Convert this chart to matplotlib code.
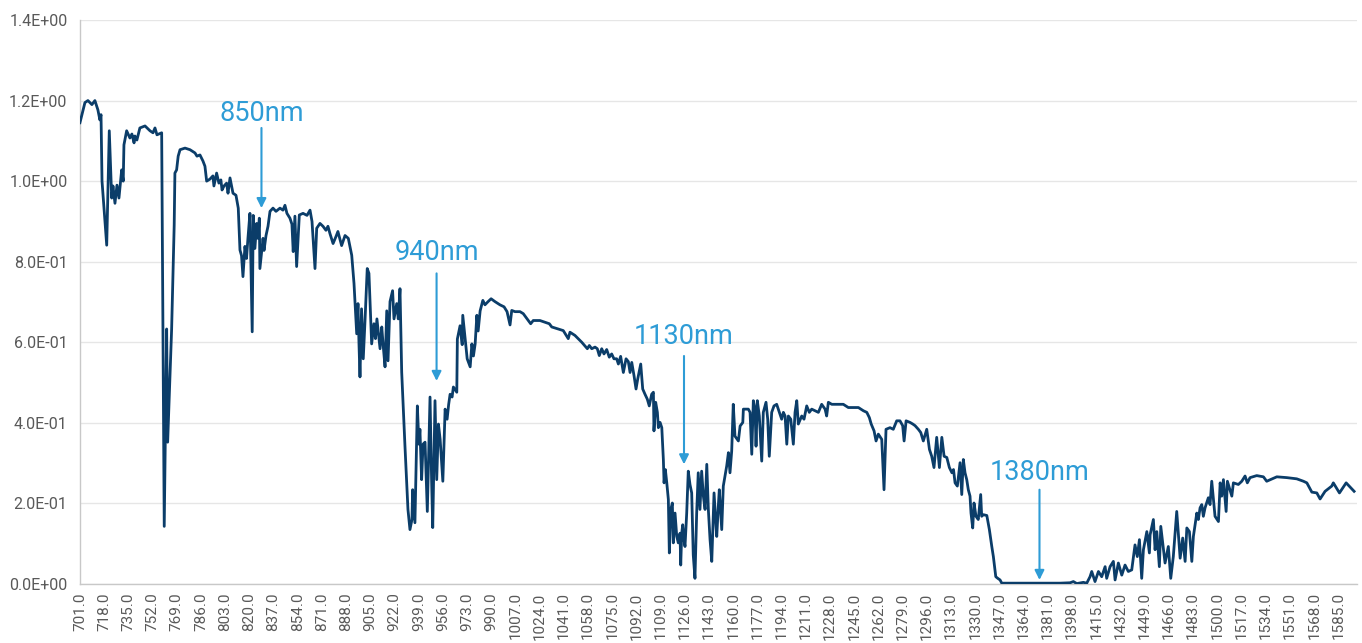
import matplotlib
matplotlib.use("Agg")
import matplotlib.pyplot as plt
from matplotlib.ticker import FuncFormatter

plt.rcParams['font.family'] = ['Roboto', 'DejaVu Sans']

# (wavelength nm, reflectance), one list per stretch of the curve
seg_701_770 = [
    (701.0, 1.145), (704.5, 1.195), (706.6, 1.200), (709.4, 1.190), (711.5, 1.200),
    (713.6, 1.177), (715.0, 1.152), (715.8, 1.165), (716.5, 1.000), (719.8, 0.841),
    (721.6, 1.125), (723.3, 0.958), (724.2, 0.988), (725.6, 0.945), (727.0, 0.990),
    (728.4, 0.958), (730.3, 1.028), (731.4, 1.000), (731.9, 1.090), (733.8, 1.125),
    (736.1, 1.107), (737.5, 1.117), (739.0, 1.095), (739.6, 1.112), (741.0, 1.102),
    (743.1, 1.132), (746.7, 1.137), (750.2, 1.125), (752.3, 1.120), (753.7, 1.132),
    (755.1, 1.115), (758.4, 1.120), (760.2, 0.143), (761.9, 0.633), (762.6, 0.352),
    (765.4, 0.633), (767.2, 0.891), (767.7, 1.020), (768.9, 1.028), (770.0, 1.062),
]

seg_771_900 = [
    (771.3, 1.078), (774.8, 1.082), (778.3, 1.078), (781.8, 1.070), (783.2, 1.062),
    (785.3, 1.065), (787.4, 1.050), (788.8, 1.037), (790.0, 1.000), (792.3, 1.005),
    (794.4, 1.013), (795.1, 0.988), (797.0, 1.020), (798.6, 0.995), (800.0, 1.003),
    (800.8, 0.978), (802.2, 0.988), (804.0, 0.995), (805.0, 0.970), (806.4, 1.008),
    (808.5, 0.970), (810.6, 0.965), (812.2, 0.933), (813.4, 0.829), (814.5, 0.815),
    (815.5, 0.763), (816.9, 0.838), (818.0, 0.808), (819.0, 0.858), (820.4, 0.920),
    (822.0, 0.626), (822.7, 0.915), (823.9, 0.833), (825.1, 0.895), (826.0, 0.858),
    (827.0, 0.908), (827.4, 0.783), (829.6, 0.858), (830.3, 0.828), (831.7, 0.865),
    (833.1, 0.888), (834.5, 0.925), (836.6, 0.933), (838.7, 0.925), (841.5, 0.933),
    (843.6, 0.928), (845.0, 0.940), (846.4, 0.920), (848.5, 0.908), (849.9, 0.893),
    (850.8, 0.825), (852.0, 0.913), (853.2, 0.788), (855.1, 0.916), (857.7, 0.920),
    (860.5, 0.915), (862.6, 0.928), (864.0, 0.900), (866.1, 0.783), (867.3, 0.883),
    (869.6, 0.895), (871.7, 0.888), (873.8, 0.878), (875.2, 0.888), (876.6, 0.870),
    (878.8, 0.845), (880.9, 0.863), (882.2, 0.875), (884.8, 0.840), (887.2, 0.865),
    (889.5, 0.858), (891.9, 0.816), (893.5, 0.746), (895.4, 0.621), (896.3, 0.696),
    (897.0, 0.596), (897.7, 0.514), (898.8, 0.683), (900.0, 0.559),
]

seg_901_1010 = [
    (901.2, 0.651), (902.8, 0.783), (904.0, 0.771), (905.9, 0.596), (907.5, 0.646),
    (908.6, 0.609), (909.6, 0.658), (911.8, 0.584), (913.0, 0.638), (913.9, 0.596),
    (915.3, 0.539), (916.5, 0.678), (917.4, 0.554), (918.8, 0.701), (920.6, 0.728),
    (921.6, 0.658), (923.5, 0.696), (924.6, 0.658), (925.8, 0.733), (927.0, 0.526),
    (929.3, 0.342), (931.4, 0.185), (932.8, 0.135), (934.2, 0.160), (934.7, 0.234),
    (936.3, 0.152), (938.0, 0.442), (939.1, 0.347), (939.8, 0.384), (941.0, 0.259),
    (942.0, 0.347), (943.4, 0.352), (945.0, 0.180), (946.9, 0.464), (948.0, 0.259),
    (948.8, 0.140), (950.4, 0.455), (951.6, 0.259), (952.8, 0.397), (954.0, 0.359),
    (955.9, 0.255), (957.5, 0.434), (958.9, 0.409), (960.0, 0.446), (961.0, 0.471),
    (962.4, 0.464), (963.3, 0.489), (965.7, 0.476), (966.1, 0.608), (968.0, 0.641),
    (969.5, 0.594), (969.9, 0.667), (971.6, 0.608), (973.0, 0.559), (975.1, 0.539),
    (976.3, 0.596), (977.4, 0.566), (978.6, 0.596), (979.8, 0.667), (980.7, 0.628),
    (982.1, 0.678), (984.0, 0.704), (985.5, 0.693), (987.7, 0.701), (989.8, 0.708),
    (992.5, 0.701), (996.0, 0.693), (998.9, 0.688), (1001.0, 0.676), (1003.1, 0.643),
    (1004.3, 0.679), (1006.6, 0.676), (1010.1, 0.676),
]

seg_1012_1160 = [
    (1012.4, 0.671), (1017.6, 0.646), (1019.4, 0.654), (1024.1, 0.654), (1030.7, 0.646),
    (1032.4, 0.638), (1040.5, 0.629), (1044.0, 0.609), (1045.2, 0.625), (1048.7, 0.617),
    (1053.5, 0.600), (1057.4, 0.584), (1058.8, 0.592), (1060.5, 0.584), (1062.8, 0.588),
    (1064.4, 0.584), (1065.8, 0.567), (1067.5, 0.584), (1069.1, 0.571), (1071.0, 0.582),
    (1072.8, 0.563), (1074.5, 0.571), (1076.1, 0.559), (1078.0, 0.559), (1079.2, 0.546),
    (1080.8, 0.565), (1082.7, 0.525), (1084.6, 0.559), (1086.2, 0.552), (1087.4, 0.525),
    (1088.6, 0.550), (1090.2, 0.517), (1091.6, 0.484), (1092.8, 0.509), (1094.9, 0.546),
    (1096.3, 0.484), (1097.9, 0.471), (1099.5, 0.459), (1100.9, 0.442), (1102.6, 0.471),
    (1103.8, 0.476), (1104.2, 0.380), (1105.4, 0.451), (1106.6, 0.426), (1107.3, 0.388),
    (1108.5, 0.401), (1109.7, 0.388), (1110.8, 0.309), (1111.3, 0.251), (1112.2, 0.284),
    (1113.2, 0.251), (1114.3, 0.210), (1115.0, 0.077), (1116.0, 0.185), (1117.1, 0.201),
    (1117.8, 0.102), (1119.0, 0.176), (1120.2, 0.118), (1121.3, 0.102), (1122.5, 0.126),
    (1123.0, 0.047), (1123.7, 0.126), (1124.4, 0.147), (1125.3, 0.110), (1126.0, 0.093),
    (1127.2, 0.176), (1128.3, 0.280), (1129.5, 0.247), (1130.7, 0.226), (1131.8, 0.072),
    (1133.0, 0.014), (1134.2, 0.176), (1135.3, 0.276), (1136.5, 0.185), (1137.7, 0.280),
    (1138.9, 0.218), (1140.1, 0.185), (1141.3, 0.297), (1142.4, 0.185), (1143.6, 0.110),
    (1144.8, 0.056), (1145.9, 0.176), (1146.4, 0.226), (1147.8, 0.143), (1148.3, 0.118),
    (1149.4, 0.193), (1150.1, 0.234), (1151.1, 0.176), (1151.8, 0.135), (1152.9, 0.243),
    (1154.1, 0.268), (1155.3, 0.293), (1156.5, 0.326), (1157.6, 0.276), (1158.8, 0.330),
    (1159.9, 0.446),
]

seg_1161_1318 = [
    (1161.1, 0.367), (1163.5, 0.355), (1164.7, 0.392), (1166.6, 0.401), (1167.0, 0.434),
    (1170.5, 0.434), (1171.7, 0.426), (1172.9, 0.322), (1174.0, 0.455), (1175.2, 0.434),
    (1175.9, 0.342), (1176.8, 0.455), (1178.2, 0.417), (1179.9, 0.305), (1181.0, 0.426),
    (1182.9, 0.451), (1184.1, 0.409), (1185.2, 0.317), (1186.9, 0.426), (1188.5, 0.442),
    (1190.4, 0.446), (1192.3, 0.426), (1193.9, 0.409), (1195.1, 0.426), (1196.3, 0.417),
    (1197.5, 0.347), (1198.6, 0.417), (1200.3, 0.409), (1202.1, 0.347), (1203.3, 0.426),
    (1204.5, 0.455), (1205.6, 0.397), (1208.0, 0.417), (1209.6, 0.409), (1211.5, 0.442),
    (1213.3, 0.426), (1215.0, 0.434), (1217.3, 0.430), (1219.7, 0.426), (1222.0, 0.446),
    (1224.4, 0.434), (1225.5, 0.417), (1226.7, 0.451), (1229.1, 0.446), (1232.6, 0.446),
    (1237.2, 0.446), (1240.7, 0.438), (1244.3, 0.438), (1247.8, 0.438), (1251.3, 0.430),
    (1253.7, 0.426), (1255.5, 0.413), (1256.8, 0.397), (1258.8, 0.380), (1260.2, 0.355),
    (1261.8, 0.372), (1264.2, 0.359), (1265.8, 0.234), (1267.2, 0.384), (1270.0, 0.388),
    (1272.3, 0.384), (1274.7, 0.405), (1277.0, 0.405), (1278.9, 0.393), (1279.9, 0.355),
    (1281.3, 0.405), (1284.1, 0.401), (1286.0, 0.397), (1287.6, 0.393), (1289.9, 0.384),
    (1291.6, 0.376), (1293.4, 0.355), (1295.8, 0.384), (1297.7, 0.334), (1299.3, 0.317),
    (1300.9, 0.289), (1302.8, 0.364), (1304.7, 0.289), (1306.4, 0.364), (1308.0, 0.317),
    (1309.9, 0.314), (1311.7, 0.289), (1313.5, 0.276), (1314.6, 0.284), (1315.7, 0.251),
    (1317.3, 0.243),
]

seg_1319_1408 = [
    (1319.2, 0.301), (1320.4, 0.222), (1321.5, 0.309), (1322.7, 0.276), (1323.9, 0.259),
    (1325.0, 0.234), (1326.2, 0.218), (1326.9, 0.176), (1328.1, 0.139), (1329.0, 0.201),
    (1330.4, 0.168), (1332.0, 0.160), (1333.7, 0.222), (1334.4, 0.168), (1335.6, 0.172),
    (1338.0, 0.170), (1339.8, 0.135), (1341.5, 0.093), (1342.6, 0.068), (1344.3, 0.018),
    (1345.7, 0.014), (1347.3, 0.010), (1348.5, 0.002), (1361.3, 0.002), (1389.4, 0.002),
    (1396.5, 0.003), (1398.8, 0.006), (1401.2, 0.001), (1405.8, 0.004), (1408.2, 0.002),
]

seg_1410_1452 = [
    (1410.5, 0.018), (1411.7, 0.031), (1414.0, 0.006), (1416.4, 0.031), (1418.7, 0.018),
    (1421.1, 0.043), (1422.2, 0.014), (1424.6, 0.043), (1426.9, 0.056), (1428.1, 0.010),
    (1430.4, 0.052), (1432.8, 0.022), (1435.1, 0.047), (1437.4, 0.031), (1439.8, 0.035),
    (1442.1, 0.097), (1443.7, 0.068), (1445.2, 0.110), (1446.8, 0.014), (1448.0, 0.085),
    (1450.4, 0.130), (1452.2, 0.077),
]

seg_1452_1596 = [
    (1452.7, 0.122), (1455.0, 0.160), (1456.2, 0.085), (1457.4, 0.130), (1459.2, 0.043),
    (1460.2, 0.143), (1463.2, 0.052), (1465.5, 0.093), (1467.2, 0.014), (1469.0, 0.068),
    (1471.4, 0.180), (1473.8, 0.064), (1475.6, 0.114), (1477.3, 0.056), (1478.5, 0.139),
    (1480.3, 0.130), (1482.0, 0.056), (1483.1, 0.118), (1485.5, 0.176), (1486.6, 0.160),
    (1487.8, 0.189), (1489.0, 0.197), (1490.1, 0.168), (1491.3, 0.189), (1493.6, 0.214),
    (1494.8, 0.197), (1496.0, 0.255), (1498.3, 0.168), (1500.7, 0.155), (1501.9, 0.251),
    (1503.0, 0.218), (1504.2, 0.259), (1506.1, 0.180), (1507.0, 0.255), (1510.1, 0.218),
    (1511.2, 0.251), (1514.7, 0.247), (1517.1, 0.255), (1519.4, 0.268), (1521.0, 0.251),
    (1522.9, 0.264), (1527.6, 0.269), (1532.3, 0.266), (1534.6, 0.255), (1541.7, 0.266),
    (1548.7, 0.264), (1555.7, 0.261), (1560.4, 0.255), (1562.8, 0.251), (1566.3, 0.228),
    (1569.8, 0.226), (1572.1, 0.211), (1575.6, 0.230), (1580.3, 0.243), (1581.4, 0.251),
    (1585.7, 0.226), (1590.4, 0.251), (1596.0, 0.230),
]

x_ticks = [701 + 17 * i for i in range(53)]

# label, x, text baseline, arrow start, arrow tip
annotations = [
    ("850nm", 828.5, 1.150, 1.132, 0.933),
    ("940nm", 951.5, 0.803, 0.771, 0.504),
    ("1130nm", 1125.3, 0.596, 0.566, 0.297),
    ("1380nm", 1375.0, 0.259, 0.234, 0.010),
]

segments = [seg_701_770, seg_771_900, seg_901_1010, seg_1012_1160,
            seg_1161_1318, seg_1319_1408, seg_1410_1452, seg_1452_1596]
points = [p for seg in segments for p in seg]
wavelength = [p[0] for p in points]
reflectance = [p[1] for p in points]

line_color = '#0B3D69'
note_color = '#2E9CD6'
text_color = '#595959'

fig = plt.figure(figsize=(13.62, 6.43), dpi=100)
ax = fig.add_axes([0.0587, 0.0918, 0.9376, 0.8771])

ax.plot(wavelength, reflectance, color=line_color, lw=2.0, solid_joinstyle='round', zorder=3)

for label, x, ty, y0, y1 in annotations:
    ax.text(x, ty, label, color=note_color, fontsize=19.5, ha='center', va='baseline')
    ax.annotate('', xy=(x, y1), xytext=(x, y0),
                arrowprops=dict(arrowstyle='-|>', color=note_color, lw=1.5,
                                mutation_scale=14, shrinkA=0, shrinkB=0))

ax.set_xlim(701, 1598)
ax.set_ylim(0, 1.4)
ax.set_yticks([0, 0.2, 0.4, 0.6, 0.8, 1.0, 1.2, 1.4])
ax.yaxis.set_major_formatter(FuncFormatter(lambda v, p: f"{v:.1E}"))
ax.set_xticks(x_ticks)
ax.set_xticklabels([f"{t:.1f}" for t in x_ticks], rotation=90)

ax.grid(axis='y', color='#E6E6E6', lw=1.0)
ax.set_axisbelow(True)
for s in ['top', 'right']:
    ax.spines[s].set_visible(False)
for s in ['left', 'bottom']:
    ax.spines[s].set_color('#C8C8C8')
    ax.spines[s].set_linewidth(1.0)
ax.tick_params(axis='both', length=0, labelcolor=text_color)
ax.tick_params(axis='x', labelsize=11, pad=6)
ax.tick_params(axis='y', labelsize=11.5, pad=9)

fig.savefig('out.png', dpi=100)
